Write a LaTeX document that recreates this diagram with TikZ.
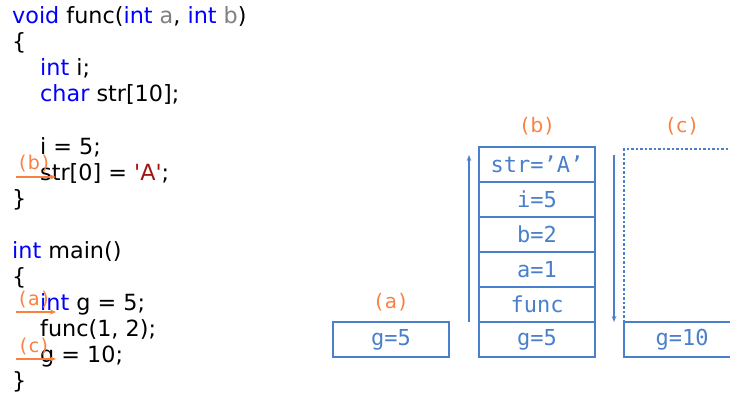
\documentclass[tikz,border=0pt]{standalone}
\usepackage{fontspec}
\newfontfamily\codefont{DejaVu Sans}
\newfontfamily\labfont{DejaVu Sans}[LetterSpace=8]
\newfontfamily\monofont{DejaVu Sans Mono}
\usetikzlibrary{arrows.meta}
\definecolor{kw}{RGB}{0,0,255}
\definecolor{par}{RGB}{128,128,128}
\definecolor{strc}{RGB}{163,21,21}
\definecolor{org}{RGB}{250,128,64}
\definecolor{bx}{RGB}{74,127,203}
\tikzset{
  codeline/.style={anchor=base west,inner sep=0pt,font=\codefont\fontsize{22.3}{26}\selectfont},
  marklab/.style={inner sep=0pt,text=org,font=\labfont\fontsize{19}{21}\selectfont},
  marker/.style={draw=org,line width=1.5pt,-{Stealth[length=6pt,width=5pt]}},
  boxlab/.style={inner sep=0pt,text=org,font=\labfont\fontsize{20}{22}\selectfont},
  cell/.style={draw=bx,line width=1.2pt,minimum width=116pt,minimum height=35pt,inner sep=0pt,outer sep=0pt,text=bx,font=\monofont\fontsize{22}{24}\selectfont},
  growarrow/.style={draw=bx,line width=1.4pt,-{Stealth[length=6pt,width=4.5pt]}}
}
\begin{document}
\begin{tikzpicture}[x=1pt,y=-1pt]
\useasboundingbox (0,0) rectangle (730,394);
\clip (0,0) rectangle (730,394);
% code
\node[codeline] (l1) at (12,23.5) {\textcolor{kw}{void} func(\textcolor{kw}{int} \textcolor{par}{a}, \textcolor{kw}{int} \textcolor{par}{b})};
\node[codeline] (l2) at (12,49.6) {\{};
\node[codeline] (l3) at (40,75.7) {\textcolor{kw}{int} i;};
\node[codeline] (l4) at (40,101.8) {\textcolor{kw}{char} str[10];};
\node[codeline] (l6) at (40,154) {i = 5;};
\node[codeline] (l7) at (40,180.1) {str[0] = \textcolor{strc}{'A'};};
\node[codeline] (l8) at (12,206.2) {\}};
\node[codeline] (l10) at (12,258.4) {\textcolor{kw}{int} main()};
\node[codeline] (l11) at (12,284.5) {\{};
\node[codeline] (l12) at (40,310.6) {\textcolor{kw}{int} g = 5;};
\node[codeline] (l13) at (40,336.7) {func(1, 2);};
\node[codeline] (l14) at (40,362.8) {g = 10;};
\node[codeline] (l15) at (12,388.9) {\}};
% markers
\coordinate (mbs) at (16,177); \coordinate (mbe) at (56,177);
\draw[marker] (mbs) -- (mbe);
\node[marklab] (mb) at (34,164) {(b)};
\coordinate (mas) at (16,312); \coordinate (mae) at (56,312);
\draw[marker] (mas) -- (mae);
\node[marklab] (ma) at (34,299.5) {(a)};
\coordinate (mcs) at (16,359); \coordinate (mce) at (56,359);
\draw[marker] (mcs) -- (mce);
\node[marklab] (mc) at (34,346.5) {(c)};
% stack (a)
\node[cell] (ag) at (391,339.5) {g=5};
\node[boxlab] (la) at (391,302.5) {(a)};
% stack (b)
\node[cell] (bg) at (537,339.5) {g=5};
\node[cell,anchor=south] (bf) at (bg.north) {func};
\node[cell,anchor=south] (ba) at (bf.north) {a=1};
\node[cell,anchor=south] (bb) at (ba.north) {b=2};
\node[cell,anchor=south] (bi) at (bb.north) {i=5};
\node[cell,anchor=south] (bs) at (bi.north) {str=’A’};
\node[boxlab] (lb) at (537,126) {(b)};
\coordinate (bup0) at (469,322); \coordinate (bup1) at (469,155);
\draw[growarrow] (bup0) -- (bup1);
% stack (c)
\node[cell,anchor=west] (cg) at (624,339.5) {\hspace*{0pt}};
\node[inner sep=0pt,text=bx,font=\monofont\fontsize{22}{24}\selectfont] (cgt) at (682,339.5) {g=10};
\coordinate (ctl) at (624,149); \coordinate (ctr) at (740,149);
\draw[bx,line width=1.4pt,dash pattern=on 2.5pt off 2pt] (cg.north west) -- (ctl) -- (ctr);
\node[boxlab] (lc) at (682,126) {(c)};
\coordinate (cdn0) at (614,155); \coordinate (cdn1) at (614,322);
\draw[growarrow] (cdn0) -- (cdn1);
\end{tikzpicture}
\end{document}
